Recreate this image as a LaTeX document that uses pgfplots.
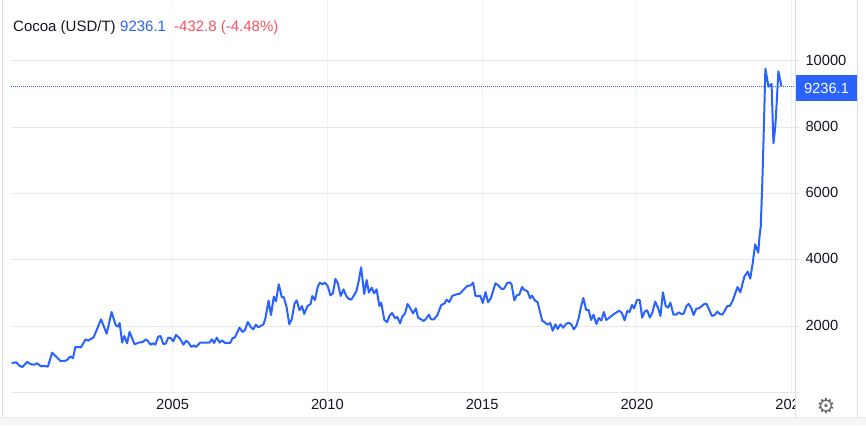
\documentclass[border=0pt]{standalone}
\usepackage{fontspec}
\setmainfont{Liberation Sans}
\usepackage{pgfplots}
\usepackage{pgfplotstable}
\pgfplotsset{compat=1.18}
\definecolor{lineblue}{HTML}{2962FF}
\definecolor{hgrid}{HTML}{E8E8E8}
\definecolor{vgrid}{HTML}{F0F2F5}
\definecolor{frameg}{HTML}{DEDEDE}
\definecolor{downred}{HTML}{F7525F}
\definecolor{txt}{HTML}{131722}
\definecolor{band}{HTML}{F5F5F5}
\newfontfamily\symfont{DejaVu Sans}
\pgfplotstableread{
year value
1999.80 885
1999.95 905
2000.06 794
2000.15 764
2000.30 915
2000.43 845
2000.54 835
2000.62 875
2000.75 784
2000.86 794
2000.97 774
2001.11 1197
2001.22 1096
2001.38 945
2001.51 945
2001.59 976
2001.70 1086
2001.78 1026
2001.86 1368
2002.04 1358
2002.19 1599
2002.27 1559
2002.45 1660
2002.69 2203
2002.87 1770
2003.03 2424
2003.16 2032
2003.23 1982
2003.29 2092
2003.37 1499
2003.44 1700
2003.53 1479
2003.61 1821
2003.77 1448
2003.90 1499
2004.04 1519
2004.13 1599
2004.19 1559
2004.29 1438
2004.37 1479
2004.44 1438
2004.54 1680
2004.61 1700
2004.70 1458
2004.78 1468
2004.86 1650
2004.95 1630
2005.02 1539
2005.11 1730
2005.23 1630
2005.35 1438
2005.44 1559
2005.52 1489
2005.61 1368
2005.69 1418
2005.76 1368
2005.89 1499
2005.98 1499
2006.19 1499
2006.27 1599
2006.34 1489
2006.43 1650
2006.52 1499
2006.60 1569
2006.69 1489
2006.86 1489
2006.94 1640
2007.01 1650
2007.16 1951
2007.26 1821
2007.34 1881
2007.43 2122
2007.53 1961
2007.61 1901
2007.69 2042
2007.77 1961
2007.94 2052
2008.00 2243
2008.10 2766
2008.18 2334
2008.27 2887
2008.34 2746
2008.43 3259
2008.53 2867
2008.59 2877
2008.68 2585
2008.77 2052
2008.85 2203
2008.94 2676
2009.01 2776
2009.10 2475
2009.18 2605
2009.25 2364
2009.36 2605
2009.46 2666
2009.51 2907
2009.60 2786
2009.69 3189
2009.76 3309
2009.84 3259
2009.92 3309
2010.01 3209
2010.10 2927
2010.18 2988
2010.26 3420
2010.34 3289
2010.43 2907
2010.52 3108
2010.61 2907
2010.68 2827
2010.77 2796
2010.85 2907
2010.94 3058
2011.02 3390
2011.09 3772
2011.19 2967
2011.27 3390
2011.34 3008
2011.43 3159
2011.51 2988
2011.59 3108
2011.68 2605
2011.74 2706
2011.84 2183
2011.93 2122
2012.01 2314
2012.09 2394
2012.19 2233
2012.26 2273
2012.35 2082
2012.42 2283
2012.51 2384
2012.59 2666
2012.68 2535
2012.77 2384
2012.86 2535
2012.93 2253
2013.01 2213
2013.11 2153
2013.19 2223
2013.28 2344
2013.35 2203
2013.44 2203
2013.55 2324
2013.68 2635
2013.79 2686
2013.85 2796
2013.94 2726
2014.04 2917
2014.18 2957
2014.28 2977
2014.39 3088
2014.52 3209
2014.63 3229
2014.71 3309
2014.78 2917
2014.87 2897
2014.94 2917
2015.02 2696
2015.11 3028
2015.19 2716
2015.28 2837
2015.43 3289
2015.52 3229
2015.63 3118
2015.71 3128
2015.80 3289
2015.89 3320
2015.95 3259
2016.04 2776
2016.12 2927
2016.20 2947
2016.29 3179
2016.36 3088
2016.46 3058
2016.55 2837
2016.61 2917
2016.71 2766
2016.79 2726
2016.94 2163
2017.01 2122
2017.11 2042
2017.20 2092
2017.28 1861
2017.37 2052
2017.44 1911
2017.53 2052
2017.62 1951
2017.70 2052
2017.79 2102
2017.88 2052
2017.96 1901
2018.04 2002
2018.12 2243
2018.20 2605
2018.27 2847
2018.36 2485
2018.44 2485
2018.52 2183
2018.60 2344
2018.69 2062
2018.77 2243
2018.85 2163
2018.93 2424
2019.01 2183
2019.26 2364
2019.43 2464
2019.52 2384
2019.60 2173
2019.69 2454
2019.76 2424
2019.84 2635
2019.91 2535
2020.00 2786
2020.09 2786
2020.17 2253
2020.25 2434
2020.33 2475
2020.42 2253
2020.50 2404
2020.59 2736
2020.68 2555
2020.76 2304
2020.84 3018
2020.93 2605
2021.01 2555
2021.08 2706
2021.18 2344
2021.27 2344
2021.35 2414
2021.43 2364
2021.51 2374
2021.60 2605
2021.67 2666
2021.76 2535
2021.83 2334
2021.92 2525
2022.01 2535
2022.18 2666
2022.25 2666
2022.34 2485
2022.42 2304
2022.51 2334
2022.60 2434
2022.68 2364
2022.76 2344
2022.84 2464
2022.92 2605
2023.00 2605
2023.09 2756
2023.25 3179
2023.34 3018
2023.47 3491
2023.58 3641
2023.66 3430
2023.74 3893
2023.82 4466
2023.92 4215
2023.96 4700
2024.00 5000
2024.05 6307
2024.09 7615
2024.15 9768
2024.25 9225
2024.35 9305
2024.41 7514
2024.47 8017
2024.52 8822
2024.57 9687
2024.67 9236
}\cocoa
\begin{document}
\begin{tikzpicture}[x=1pt,y=1pt]
\path[use as bounding box] (0,0) rectangle (866,425);
\fill[band] (0,0) rectangle (866,7);
\draw[hgrid,line width=1pt] (0,7) -- (866,7);
\begin{axis}[
  at={(11pt,32.7pt)}, anchor=south west,
  scale only axis, width=784pt, height=392.3pt,
  xmin=1999.78, xmax=2025.107, ymin=0, ymax=11841,
  axis line style={draw=none},
  major tick length=0pt,
  xtick={2005,2010,2015,2020,2025},
  ytick={2000,4000,6000,8000,10000},
  extra y ticks={0},
  extra y tick labels={},
  scaled ticks=false,
  yticklabel pos=right,
  xmajorgrids, ymajorgrids,
  x grid style={vgrid,line width=1pt},
  y grid style={hgrid,line width=1pt},
  extra y tick style={grid style={hgrid,line width=1pt}},
  /pgf/number format/1000 sep={},
  /pgf/number format/assume math mode=true,
  tick label style={font=\fontsize{14.7}{16}\selectfont,text=txt},
  xticklabel style={yshift=-3pt},
  yticklabel style={anchor=west,xshift=7pt,yshift=1pt},
  clip=true,
]
\addplot[lineblue,line width=1pt,densely dotted] coordinates {(1999.78,9236.1) (2025.107,9236.1)};
\addplot[lineblue,line width=2pt,line join=round,no marks] table[x=year,y=value] {\cocoa};
\end{axis}
% frame lines and price tag
\fill[white] (795.5,7.5) rectangle (857,32);
\draw[frameg,line width=1pt] (2.5,7) -- (2.5,425);
\draw[frameg,line width=1pt] (795.5,7) -- (795.5,425);
\draw[frameg,line width=1pt] (857.5,7) -- (857.5,425);
\foreach \yy in {32.7,98.9,165.2,231.5,297.7,364} \draw[hgrid,line width=1pt] (795.5,\yy) -- (800,\yy);
\fill[lineblue] (796,324) rectangle (857,350);
\node[anchor=center,text=white,font=\fontsize{14.7}{16}\selectfont] at (826.5,337) {9236.1};
\node[text=gray!85!black,font=\symfont\fontsize{21}{22}\selectfont,inner sep=0pt] at (826,19) {⚙};
% legend
\fill[white] (11,387) rectangle (285,415);
\node[anchor=base west,inner sep=0pt,text=txt,font=\fontsize{15}{16}\selectfont] at (13,393.5) {Cocoa (USD/T)};
\node[anchor=base west,inner sep=0pt,text=lineblue,font=\fontsize{15}{16}\selectfont] at (120,393.5) {9236.1};
\node[anchor=base west,inner sep=0pt,text=downred,font=\fontsize{15}{16}\selectfont] at (174,393.5) {-432.8 (-4.48\%)};
\end{tikzpicture}
\end{document}
